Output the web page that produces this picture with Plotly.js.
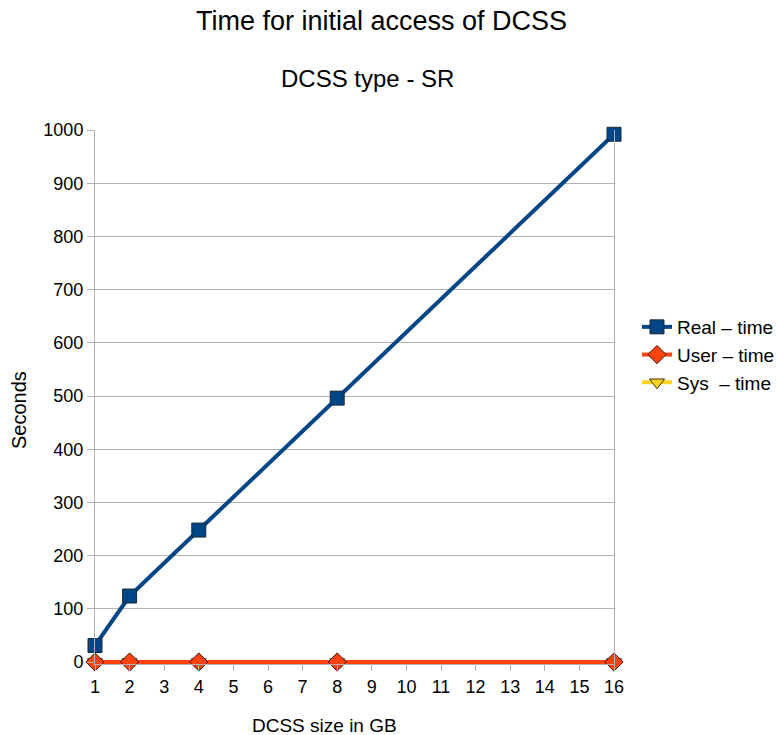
<!DOCTYPE html>
<html><head><meta charset="utf-8">
<script src="https://cdn.plot.ly/plotly-3.0.1.min.js"></script>
<style>body{margin:0;background:#fff}#c{width:777px;height:735px}</style>
</head><body><div id="c"></div>
<script>
const sizes = [1, 2, 4, 8, 16];
const realTime = [31, 124, 248, 496, 992];
const userTime = [0, 0, 0, 0, 0];
const sysTime = [0, 0, 0, 0, 0];
const seriesNames = ['Real – time', 'User – time', 'Sys  – time'];
const xTicks = [1,2,3,4,5,6,7,8,9,10,11,12,13,14,15,16];
const yTicks = [0,100,200,300,400,500,600,700,800,900,1000];

const font = {family: 'Liberation Sans, Arial, sans-serif', color: '#000'};
const f = s => Object.assign({size: s}, font);
const traces = [
  {x: sizes, y: realTime, name: seriesNames[0], type: 'scatter', mode: 'lines+markers',
   line: {color: '#004586', width: 4}, legendrank: 1,
   marker: {symbol: 'square', size: 14, color: '#004586', line: {color: '#1a2a3a', width: 1}}, cliponaxis: false},
  {x: sizes, y: sysTime, name: seriesNames[2], type: 'scatter', mode: 'lines+markers',
   line: {color: '#ffd320', width: 4}, legendrank: 3,
   marker: {symbol: 'triangle-down', size: 13, color: '#ffd320', line: {color: '#3a3000', width: 1}}, cliponaxis: false},
  {x: sizes, y: userTime, name: seriesNames[1], type: 'scatter', mode: 'lines+markers',
   line: {color: '#ff420e', width: 4}, legendrank: 2,
   marker: {symbol: 'diamond', size: 14, color: '#ff420e', line: {color: '#3a1000', width: 1}}, cliponaxis: false}
];
const M = {l: 95, r: 163, t: 130, b: 71};
const layout = {
  width: 777, height: 735,
  margin: M,
  paper_bgcolor: '#fff', plot_bgcolor: '#fff',
  font: f(18),
  showlegend: true,
  legend: {xref: 'container', yref: 'container', x: 637 / 777, xanchor: 'left',
    y: 1 - 355 / 735, yanchor: 'middle', traceorder: 'normal',
    font: f(19), itemwidth: 30, tracegroupgap: 0, bgcolor: 'rgba(0,0,0,0)'},
  xaxis: {range: [1, 16], tickvals: xTicks, ticktext: xTicks.map(String), showgrid: false,
    zeroline: false, showline: true, linecolor: '#b3b3b3', linewidth: 1, mirror: false,
    ticks: 'outside', ticklen: 6, tickcolor: '#b3b3b3', tickfont: f(18), automargin: false},
  yaxis: {range: [-3.76, 1000], tickvals: yTicks, showgrid: true, gridcolor: '#b3b3b3', gridwidth: 1,
    zeroline: false, showline: true, linecolor: '#b3b3b3', linewidth: 1, mirror: true,
    ticks: 'outside', ticklen: 7, tickcolor: '#b3b3b3', tickfont: f(18), automargin: false},
  annotations: [
    {text: 'Time for initial access of DCSS', showarrow: false, font: f(27)},
    {text: 'DCSS type - SR', showarrow: false, font: f(24)},
    {text: 'DCSS size in GB', showarrow: false, font: f(19)},
    {text: 'Seconds', showarrow: false, textangle: -90, font: f(20)}
  ]
};
const pos = [[381, 21], [367, 78], [324, 725], [19, 410]];
layout.annotations.forEach((a, i) => {
  a.xref = 'paper'; a.yref = 'paper';
  a.x = (pos[i][0] - M.l) / (777 - M.l - M.r);
  a.y = (735 - M.b - pos[i][1]) / (735 - M.t - M.b);
  a.xanchor = 'center'; a.yanchor = 'middle';
});
Plotly.newPlot('c', traces, layout, {displayModeBar: false, staticPlot: true});
</script></body></html>
